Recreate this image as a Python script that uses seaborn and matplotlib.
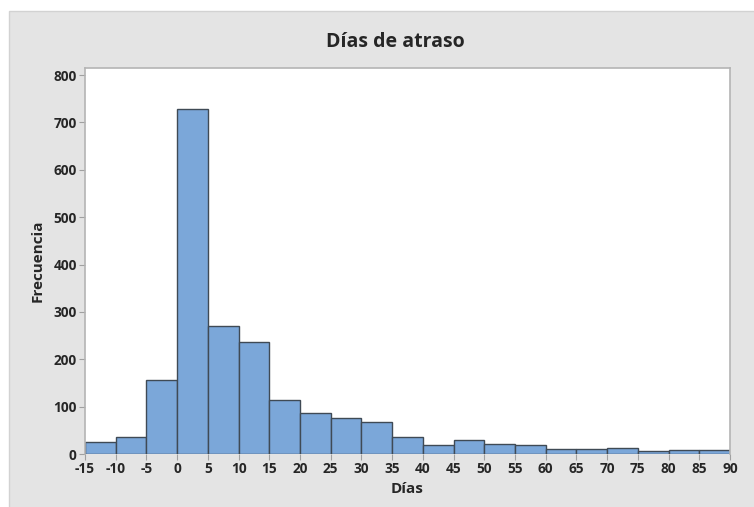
import numpy as np
import seaborn as sns
import matplotlib.pyplot as plt
from matplotlib.patches import Rectangle

# Days-late histogram (bin width 5, from -15 to 90)
bin_edges = list(range(-15, 95, 5))
counts = [25, 35, 156, 729, 270, 237, 115, 87, 75, 68, 35,
          19, 29, 22, 18, 11, 10, 12, 6, 8, 8]
x_ticks = list(range(-15, 95, 5))
y_ticks = list(range(0, 900, 100))

bin_centers = [e + 2.5 for e in bin_edges[:-1]]

sns.set_style("white")
plt.rcParams['font.family'] = ['Open Sans', 'DejaVu Sans']
plt.rcParams['axes.unicode_minus'] = False

fig = plt.figure(figsize=(7.54, 5.07), dpi=100)
fig.patch.set_facecolor('white')

# grey panel behind the chart (Minitab style)
panel = Rectangle((9 / 754, -0.05), 1.0, 1.05 - 11 / 507, transform=fig.transFigure,
                  facecolor='#E4E4E4', edgecolor='#D2D2D2', linewidth=1, zorder=-10)
fig.patches.append(panel)

ax = fig.add_axes([85 / 754, 53 / 507, (730 - 85) / 754, (454 - 68) / 507])
ax.set_facecolor('white')

sns.histplot(x=bin_centers, weights=counts, bins=bin_edges, ax=ax,
             color='#7BA7D9', edgecolor='#3F4A55', linewidth=1, alpha=1)

ax.set_xlim(-15, 90)
ax.set_ylim(0, 815)
ax.set_xticks(x_ticks)
ax.set_yticks(y_ticks)
ax.tick_params(axis='both', direction='out', length=4, width=0.8,
               color='#A0A0A0', labelsize=9.8, pad=2, bottom=True, left=True)
for lab in ax.get_xticklabels() + ax.get_yticklabels():
    lab.set_fontweight('bold')

for side in ['left', 'top', 'right']:
    ax.spines[side].set_color('#B4B4B4')
    ax.spines[side].set_linewidth(1.2)
ax.spines['bottom'].set_visible(False)

ax.set_xlabel('Días', fontsize=11, fontweight='bold', labelpad=4)
ax.set_ylabel('Frecuencia', fontsize=11, fontweight='bold', labelpad=6)
fig.text(395 / 754, 1 - 42 / 507, 'Días de atraso', ha='center', va='center',
         fontsize=14, fontweight='bold')

plt.savefig('out.png', dpi=100)
plt.close()
